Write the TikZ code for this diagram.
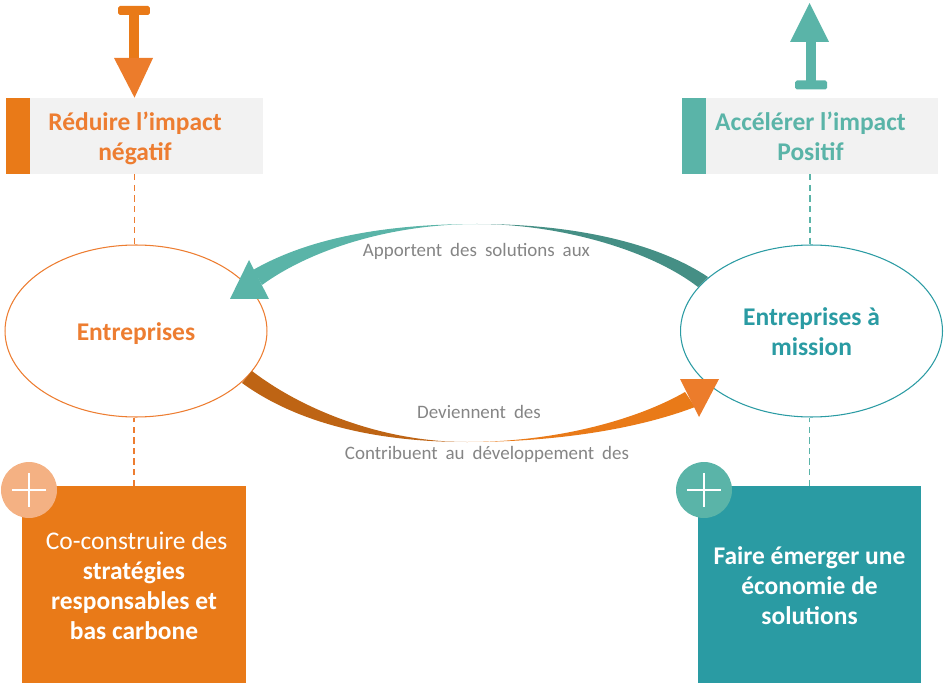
\documentclass[tikz,border=0pt]{standalone}
\usepackage{fontspec}
\setmainfont{Carlito}
\usepackage{xcolor}
\usetikzlibrary{shapes.geometric}
\definecolor{orangebox}{HTML}{E97A18}
\definecolor{orangetip}{HTML}{EC7C2B}
\definecolor{orangedark}{HTML}{BE6414}
\definecolor{orangepale}{HTML}{F4B183}
\definecolor{orangetext}{HTML}{ED7D31}
\definecolor{tealbox}{HTML}{2A9BA3}
\definecolor{teallight}{HTML}{5AB4A8}
\definecolor{tealdark}{HTML}{458F85}
\definecolor{greybox}{HTML}{F2F2F2}
\definecolor{greytext}{HTML}{858585}
\newcommand{\wideword}{\spaceskip=.42em\relax}
\tikzstyle{headtext}=[font=\fontsize{14.5pt}{17pt}\selectfont\bfseries,align=center]
\tikzstyle{smalltext}=[font=\fontsize{10.8pt}{12pt}\selectfont\wideword,text=greytext,inner sep=0pt]
\tikzstyle{tbox}=[fill=greybox,minimum width=5.14cm,minimum height=1.52cm,inner sep=0pt]
\tikzstyle{tbar}=[minimum width=.48cm,minimum height=1.52cm,inner sep=0pt,anchor=west]
\tikzstyle{toval}=[ellipse,draw,fill=white,line width=.6pt,minimum width=5.24cm,minimum height=3.44cm,inner sep=0pt]
\tikzstyle{tsquare}=[minimum width=4.48cm,minimum height=3.94cm,inner sep=0pt]
\tikzstyle{squaretext}=[text=white,align=center,font=\fontsize{14.5pt}{17pt}\selectfont]
\tikzstyle{tplus}=[circle,minimum size=1.12cm,inner sep=0pt]
\tikzstyle{tlink}=[dash pattern=on 3.5pt off 2.5pt,line width=.6pt]
\begin{document}
\begin{tikzpicture}[x=.02cm,y=-.02cm]
  \useasboundingbox (0,0) rectangle (945,685);

  \node[tbox] (reduire) at (134.5,136) {};
  \node[tbar,fill=orangebox] (reduirebar) at (reduire.west) {};
  \node[headtext,text=orangetext] (reduiretext) at (135,138) {Réduire l’impact\\négatif};
  \node[tbox] (accelerer) at (810,136) {};
  \node[tbar,fill=teallight] (accelererbar) at (accelerer.west) {};
  \node[headtext,text=teallight] (acceleretext) at (810.5,136) {Accélérer l’impact\\Positif};

  \node[toval,draw=orangetext] (entreprises) at (136,331) {};
  \node[toval,draw=tealbox] (mission) at (811.5,331) {};
  \node[headtext,text=orangetext] (entreprisestext) at (136,333.5) {Entreprises};
  \node[headtext,text=tealbox] (missiontext) at (811.5,332) {Entreprises à\\mission};

  \node[tsquare,fill=orangebox] (construire) at (134,584.5) {};
  \node[tsquare,fill=tealbox] (emerger) at (809.5,584.5) {};
  \node[squaretext] (construiretext) at (134,585.5) {\hspace*{3pt}Co-construire des\\\textbf{stratégies}\\\textbf{responsables et}\\\textbf{bas carbone}};
  \node[squaretext] (emergertext) at (809.5,585.5) {\textbf{Faire émerger une}\\\textbf{économie de}\\\textbf{solutions}};

  \node[tplus,fill=orangepale] (plusa) at (29,490) {};
  \node[tplus,fill=teallight] (plusb) at (704,490) {};
  \draw[white,line width=.8pt] (plusa.center)+(-17,0) -- +(17,0) (plusa.center)+(0,-17) -- +(0,17);
  \draw[white,line width=.8pt] (plusb.center)+(-17,0) -- +(17,0) (plusb.center)+(0,-17) -- +(0,17);

  \draw[tlink,draw=orangetext] (reduire.south) to (reduire.south |- entreprises.north);
  \draw[tlink,draw=orangetext] (construire.north) to (construire.north |- entreprises.south);
  \draw[tlink,draw=teallight] (accelerer.south) to (accelerer.south |- mission.north);
  \draw[tlink,draw=teallight] (emerger.north) to (emerger.north |- mission.south);

  % stop arrow on the left
  \node[fill=orangebox,minimum width=.64cm,minimum height=.18cm,inner sep=0pt,rounded corners=1pt] (barleft) at (134,10.5) {};
  \fill[orangebox] (129,10) rectangle (139,60);
  \fill[orangetip] (114,58) -- (153,58) -- (reduire.north) -- cycle;

  % same on the right, upwards
  \node[fill=teallight,minimum width=.64cm,minimum height=.18cm,inner sep=0pt,rounded corners=1pt] (barright) at (811,85) {};
  \fill[teallight] (805.5,40) rectangle (815.5,85);
  \fill[teallight] (790,42) -- (829,42) -- (809.5,3) -- cycle;

  % upper crescent
  \coordinate (topc) at (477,224);
  \fill[teallight] (topc) .. controls (370,224) and (300,243) .. (253,270) -- (262,285) .. controls (310,250) and (390,224) .. (topc);
  \fill[tealdark] (topc) .. controls (580,224) and (660,245) .. (708,277) -- (698,287) .. controls (650,250) and (560,224) .. (topc);
  \fill[teallight] (249,260) -- (269,299) -- (230,299) -- cycle;

  % lower crescent
  \coordinate (botc) at (467,442);
  \fill[orangedark] (botc) .. controls (380,442) and (300,408) .. (252,371) -- (242,383) .. controls (300,425) and (380,442) .. (botc);
  \fill[orangebox] (botc) .. controls (560,442) and (640,428) .. (695,407) -- (685,392) .. controls (640,418) and (560,442) .. (botc);
  \fill[orangetip] (680,379) -- (719,379) -- (699,417) -- cycle;

  \node[smalltext] (solutions) at (476.5,251.5) {Apportent des solutions aux};
  \node[smalltext] (deviennent) at (479,411.5) {Deviennent des};
  \node[smalltext] (contribuent) at (487,454.5) {Contribuent au développement des};

\end{tikzpicture}
\end{document}
